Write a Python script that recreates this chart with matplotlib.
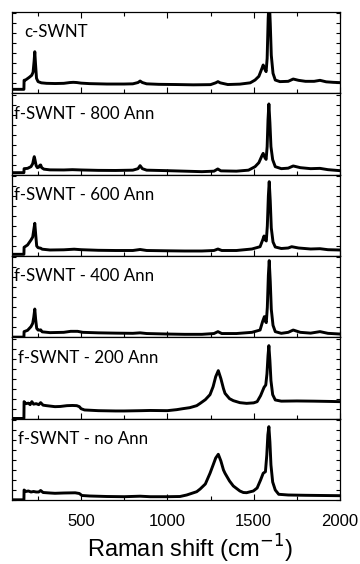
import matplotlib
matplotlib.use("Agg")
import matplotlib.pyplot as plt
from matplotlib.ticker import MultipleLocator

# Raman spectra, one trace per sample (intensity in arbitrary units)
labels = ["c-SWNT", "f-SWNT - 800 Ann", "f-SWNT - 600 Ann",
          "f-SWNT - 400 Ann", "f-SWNT - 200 Ann", "f-SWNT - no Ann"]

shift_c = [100, 169, 170, 180, 200, 214, 222, 228, 232, 236, 242, 251, 270, 300, 350, 400,
           436, 455, 475, 500, 550, 650, 750, 800, 830, 842, 855, 880, 950, 1050, 1150,
           1250, 1280, 1293, 1306, 1350, 1420, 1480, 1508, 1530, 1548, 1555, 1565, 1572,
           1578, 1584, 1590, 1596, 1602, 1612, 1625, 1652, 1700, 1729, 1760, 1800, 1850,
           1884, 1920, 1960, 2000]
int_c = [0.4, 0.4, 1.3, 1.35, 1.6, 1.8, 2.1, 3.2, 4.16, 3.0, 1.5, 1.17, 1.05, 1.0, 0.98, 1.0,
         1.08, 1.1, 1.08, 1.02, 0.97, 0.93, 0.93, 0.95, 1.08, 1.23, 1.08, 0.95, 0.9, 0.88, 0.85,
         0.87, 1.05, 1.17, 1.05, 0.88, 0.92, 1.05, 1.33, 1.7, 2.5, 2.83, 2.4, 2.17,
         3.5, 7.5, 9.5, 7.0, 3.8, 2.0, 1.33, 1.17, 1.2, 1.43, 1.3, 1.2, 1.2,
         1.3, 1.15, 1.1, 1.07]

shift_800 = [100, 169, 170, 190, 210, 220, 226, 229, 233, 240, 247, 255, 262, 266, 272, 285,
             320, 400, 450, 500, 600, 700, 800, 830, 842, 855, 880, 1000, 1100, 1200, 1270,
             1292, 1310, 1400, 1470, 1508, 1530, 1548, 1555, 1565, 1572, 1578, 1583, 1588,
             1594, 1600, 1610, 1625, 1660, 1700, 1729, 1770, 1830, 1884, 1930, 2000]
int_800 = [0.2, 0.2, 0.6, 0.63, 0.8, 1.1, 1.6, 1.8, 1.5, 0.9, 0.7, 0.75, 0.95, 0.97, 0.7, 0.55,
           0.48, 0.47, 0.5, 0.47, 0.43, 0.42, 0.45, 0.6, 0.9, 0.6, 0.45, 0.4, 0.35, 0.3, 0.35,
           0.57, 0.38, 0.35, 0.45, 0.8, 1.2, 1.9, 2.13, 1.7, 1.53, 2.8, 5.5, 7.07,
           5.2, 2.8, 1.5, 0.8, 0.6, 0.65, 0.87, 0.7, 0.6, 0.63, 0.5, 0.4]

shift_600 = [100, 169, 170, 190, 210, 220, 226, 232, 237, 243, 251, 260, 266, 275, 320, 400,
             460, 500, 600, 700, 800, 842, 880, 1000, 1100, 1200, 1270, 1293, 1315, 1400,
             1490, 1537, 1552, 1560, 1567, 1573, 1579, 1585, 1590, 1596, 1602, 1612, 1625,
             1660, 1700, 1720, 1760, 1830, 1884, 1930, 2000]
int_600 = [0.17, 0.17, 0.87, 1.1, 1.6, 1.9, 2.6, 3.27, 2.2, 1.0, 0.83, 0.8, 0.78, 0.68, 0.6, 0.62,
           0.68, 0.63, 0.57, 0.55, 0.55, 0.65, 0.55, 0.52, 0.5, 0.5, 0.55, 0.7, 0.55, 0.55,
           0.7, 0.93, 1.6, 2.0, 1.6, 1.5, 3.0, 6.0, 7.43, 5.5, 2.8, 1.4, 0.9,
           0.75, 0.8, 0.93, 0.8, 0.7, 0.73, 0.63, 0.6]

shift_400 = [100, 169, 170, 190, 210, 220, 226, 232, 237, 243, 251, 260, 266, 275, 320, 400,
             440, 480, 510, 600, 700, 800, 842, 880, 1000, 1100, 1200, 1270, 1293, 1315, 1400,
             1490, 1537, 1552, 1562, 1568, 1573, 1579, 1585, 1590, 1596, 1602, 1612, 1625,
             1660, 1700, 1729, 1770, 1830, 1884, 1930, 2000]
int_400 = [0.02, 0.02, 0.57, 0.7, 1.07, 1.4, 2.0, 2.83, 1.8, 0.9, 0.73, 0.72, 0.75, 0.55, 0.47, 0.5,
           0.6, 0.6, 0.5, 0.45, 0.42, 0.4, 0.45, 0.38, 0.33, 0.3, 0.3, 0.38, 0.57, 0.38, 0.38,
           0.5, 0.73, 1.6, 2.07, 1.6, 1.47, 3.0, 6.2, 7.67, 5.6, 2.8, 1.2, 0.57,
           0.4, 0.5, 0.73, 0.5, 0.42, 0.57, 0.4, 0.33]

shift_200 = [100, 169, 170, 180, 195, 205, 215, 225, 240, 255, 266, 280, 300, 349, 380, 418,
             450, 475, 490, 500, 520, 600, 700, 750, 850, 900, 1000, 1054, 1090, 1130, 1170,
             1190, 1220, 1247, 1265, 1280, 1295, 1310, 1325, 1334, 1360, 1382, 1420, 1459,
             1500, 1520, 1540, 1560, 1570, 1577, 1583, 1588, 1594, 1600, 1610, 1625, 1660,
             1750, 1850, 1950, 2000]
int_200 = [0.02, 0.02, 1.7, 1.5, 1.55, 1.4, 1.7, 1.45, 1.5, 1.4, 1.6, 1.35, 1.3, 1.2, 1.22, 1.3,
           1.32, 1.3, 1.2, 1.0, 0.87, 0.8, 0.77, 0.77, 0.8, 0.82, 0.8, 0.9, 1.0, 1.1, 1.3,
           1.53, 1.9, 2.4, 3.2, 4.2, 4.8, 4.0, 3.0, 2.53, 2.0, 1.8, 1.6, 1.53,
           1.58, 1.7, 2.3, 3.13, 3.37, 4.5, 6.3, 7.3, 5.8, 3.8, 2.4, 1.87, 1.75,
           1.77, 1.75, 1.72, 1.7]

shift_no = [100, 169, 170, 180, 195, 210, 225, 240, 255, 266, 280, 320, 349, 400, 466, 490,
            505, 550, 650, 750, 842, 900, 1000, 1073, 1112, 1170, 1190, 1220, 1247, 1265,
            1280, 1295, 1310, 1325, 1334, 1360, 1382, 1420, 1440, 1459, 1498, 1520, 1540,
            1555, 1568, 1576, 1582, 1588, 1594, 1600, 1610, 1625, 1645, 1700, 1800, 1900, 2000]
int_no = [0.02, 0.02, 1.0, 0.85, 0.9, 0.8, 0.85, 0.8, 0.8, 0.95, 0.75, 0.7, 0.67, 0.7, 0.72, 0.65,
          0.45, 0.4, 0.35, 0.33, 0.38, 0.33, 0.33, 0.35, 0.5, 0.83, 1.1, 1.6, 2.67, 3.5,
          4.2, 4.57, 3.9, 3.0, 2.67, 1.9, 1.4, 0.9, 0.75, 0.73, 0.9, 1.2, 2.0,
          2.67, 2.83, 4.5, 6.5, 7.33, 5.8, 3.5, 1.8, 1.0, 0.57, 0.5, 0.47, 0.45, 0.43]

shifts = [shift_c, shift_800, shift_600, shift_400, shift_200, shift_no]
intensities = [int_c, int_800, int_600, int_400, int_200, int_no]
x_ticks = [500, 1000, 1500, 2000]

fig = plt.figure(figsize=(3.6, 5.64), dpi=100)
gs = fig.add_gridspec(6, 1, left=12 / 360, right=340 / 360,
                      top=1 - 12 / 564, bottom=1 - 500 / 564, hspace=0)
axes = [fig.add_subplot(gs[i]) for i in range(6)]

for i, ax in enumerate(axes):
    ax.plot(shifts[i], intensities[i], color="black", lw=2.1, solid_joinstyle="round")
    ax.set_xlim(100, 2000)
    ax.set_ylim(0, 8.13)
    ax.xaxis.set_major_locator(MultipleLocator(500))
    ax.xaxis.set_minor_locator(MultipleLocator(250))
    ax.yaxis.set_major_locator(MultipleLocator(1))
    ax.tick_params(axis="both", which="both", direction="in", width=0.8,
                   top=(i == 0), right=True, left=True, bottom=True,
                   labelleft=False, labelbottom=(i == 5))
    ax.tick_params(axis="x", which="major", length=4)
    ax.tick_params(axis="x", which="minor", length=3)
    ax.tick_params(axis="y", which="major", length=3)
    for s in ax.spines.values():
        s.set_linewidth(0.9)
    xoff = 0.037 if i == 0 else (0.005 if i < 4 else 0.017)
    ax.text(xoff, 0.75, labels[i], transform=ax.transAxes, ha="left", va="center",
            fontsize=12.2, family="Lato")

axes[-1].set_xticks(x_ticks)
axes[-1].set_xticklabels([str(v) for v in x_ticks], family="Liberation Sans", fontsize=12)
axes[-1].tick_params(axis="x", pad=10)
fig.text(190 / 360, 1 - 549 / 564, "Raman shift (cm$^{-1}$)", family="Liberation Sans",
         fontsize=17, ha="center", va="center")

fig.savefig("out.png", dpi=100)
